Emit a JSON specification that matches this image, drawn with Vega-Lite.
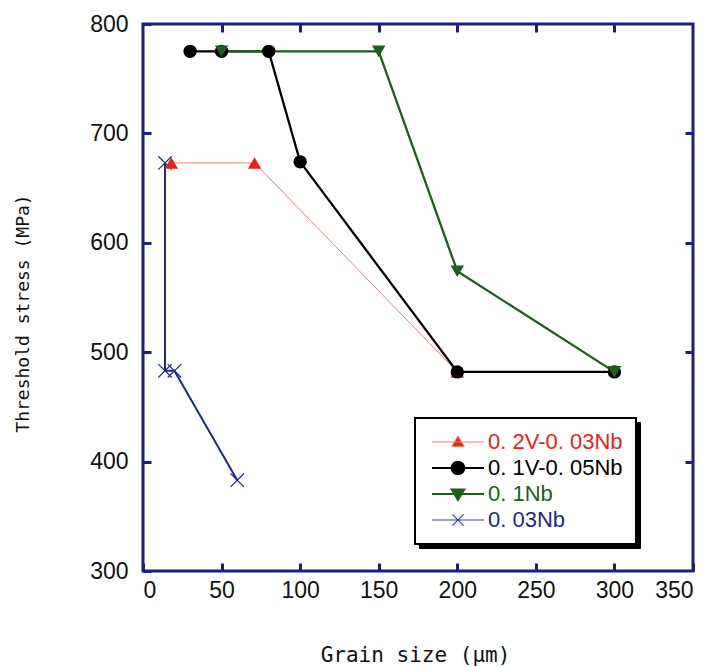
{
  "$schema": "https://vega.github.io/schema/vega-lite/v6.json",
  "width": 550,
  "height": 547,
  "autosize": "none",
  "padding": {"left": 143, "top": 24, "right": 20, "bottom": 96},
  "background": "white",
  "config": {
    "view": {"stroke": "#1c1f80", "strokeWidth": 3},
    "axis": {"grid": false, "domain": false, "tickColor": "#1c1f80", "tickWidth": 3, "tickSize": -8,
      "labelFont": "Liberation Sans", "labelFontSize": 23, "labelColor": "#111",
      "titleFontWeight": "normal", "titleColor": "#111"}
  },
  "data": {"values": [
    {"series": "0. 03Nb", "x": 14, "y": 673, "o": 1},
    {"series": "0. 03Nb", "x": 14, "y": 483, "o": 2},
    {"series": "0. 03Nb", "x": 20, "y": 483, "o": 3},
    {"series": "0. 03Nb", "x": 60, "y": 383, "o": 4},
    {"series": "0. 2V-0. 03Nb", "x": 18, "y": 673, "o": 1},
    {"series": "0. 2V-0. 03Nb", "x": 71, "y": 673, "o": 2},
    {"series": "0. 2V-0. 03Nb", "x": 200, "y": 482, "o": 3},
    {"series": "0. 1V-0. 05Nb", "x": 30, "y": 775, "o": 1},
    {"series": "0. 1V-0. 05Nb", "x": 50, "y": 775, "o": 2},
    {"series": "0. 1V-0. 05Nb", "x": 80, "y": 775, "o": 3},
    {"series": "0. 1V-0. 05Nb", "x": 100, "y": 674, "o": 4},
    {"series": "0. 1V-0. 05Nb", "x": 200, "y": 482, "o": 5},
    {"series": "0. 1V-0. 05Nb", "x": 300, "y": 482, "o": 6},
    {"series": "0. 1Nb", "x": 50, "y": 775, "o": 1},
    {"series": "0. 1Nb", "x": 150, "y": 775, "o": 2},
    {"series": "0. 1Nb", "x": 200, "y": 574, "o": 3},
    {"series": "0. 1Nb", "x": 300, "y": 482, "o": 4}
  ]},
  "resolve": {"axis": {"x": "independent", "y": "independent"}},
  "layer": [
    {
      "mark": {"type": "point", "opacity": 0},
      "encoding": {
        "x": {"field": "x", "type": "quantitative", "scale": {"domain": [0, 350], "nice": false, "zero": false},
          "axis": {"orient": "top", "labels": false, "title": null, "values": [50, 100, 150, 200, 250, 300]}},
        "y": {"field": "y", "type": "quantitative", "scale": {"domain": [300, 800], "nice": false, "zero": false},
          "axis": {"orient": "right", "labels": false, "title": null, "values": [400, 500, 600, 700]}}
      }
    },
    {
      "mark": {"type": "line"},
      "encoding": {
        "x": {"field": "x", "type": "quantitative",
          "axis": {"orient": "bottom", "values": [0, 50, 100, 150, 200, 250, 300, 350], "labelPadding": 16,
            "title": "Grain size (μm)", "titleFont": "DejaVu Sans Mono", "titleFontSize": 21,
            "titleX": 272, "titleY": 84, "titleBaseline": "middle"}},
        "y": {"field": "y", "type": "quantitative",
          "axis": {"orient": "left", "values": [300, 400, 500, 600, 700, 800], "labelPadding": 23,
            "title": "Threshold stress (MPa)", "titleFont": "DejaVu Sans Mono", "titleFontSize": 18,
            "titleX": -120, "titleY": 289, "titleAngle": -90, "titleBaseline": "middle"}},
        "order": {"field": "o", "type": "quantitative"},
        "stroke": {"field": "series", "type": "nominal",
          "scale": {"domain": ["0. 1Nb", "0. 03Nb", "0. 2V-0. 03Nb", "0. 1V-0. 05Nb"],
            "range": ["#1d5e1d", "#1c2a80", "#f0826a", "#000000"]},
          "legend": {
            "orient": "none", "legendX": 276, "legendY": 398, "title": null, "zindex": 0,
            "padding": 13, "strokeColor": "#000", "fillColor": "#000",
            "symbolSize": 196, "labelOffset": 173, "rowPadding": 4, "symbolOffset": 0,
            "labelFont": "Liberation Sans", "labelFontSize": 22, "labelLimit": 400,
            "labelExpr": "'\u00a0\u00a0\u00a0\u00a0\u00a0\u00a0\u00a0\u00a0\u00a0\u00a0\u00a0\u00a0\u00a0\u00a0\u00a0\u00a0\u00a0\u00a0\u00a0\u00a0\u00a0\u00a0\u00a0\u00a0'",
            "symbolOpacity": 0
          }},
        "strokeWidth": {"condition": [
          {"test": "datum.series === '0. 2V-0. 03Nb'", "value": 1},
          {"test": "datum.series === '0. 03Nb'", "value": 2}], "value": 2.3}
      }
    },
    {
      "mark": {"type": "point", "filled": true, "opacity": 1, "size": 180, "stroke": "#1c2a80"},
      "encoding": {
        "x": {"field": "x", "type": "quantitative", "axis": null},
        "y": {"field": "y", "type": "quantitative", "axis": null},
        "fill": {"field": "series", "type": "nominal",
          "scale": {"domain": ["0. 2V-0. 03Nb", "0. 1V-0. 05Nb", "0. 1Nb", "0. 03Nb"],
            "range": ["#e8221b", "#000000", "#1d5e1d", "#1c2a80"]},
          "legend": {
            "orient": "none", "legendX": 272, "legendY": 394, "title": null, "zindex": 1,
            "padding": 13, "strokeColor": "#000", "fillColor": "#fff",
            "symbolSize": 196, "labelOffset": 38, "rowPadding": 4, "symbolOffset": 0,
            "labelFont": "Liberation Sans", "labelFontSize": 22, "labelLimit": 400,
            "encoding": {
              "legend": {"strokeWidth": {"value": 2}},
              "symbols": {
                "shape": {"value": {"expr": "datum.value === '0. 2V-0. 03Nb' ? 'M-1,0H6.43M2.71,-0.85L3.61,0.65L1.81,0.65Z' : datum.value === '0. 1V-0. 05Nb' ? 'M-1,0H6.43M1.81,0A0.9,0.9 0 1,0 3.61,0A0.9,0.9 0 1,0 1.81,0Z' : datum.value === '0. 1Nb' ? 'M-1,0H6.43M2.71,0.85L3.61,-0.65L1.81,-0.65Z' : 'M-1,0H6.43M1.91,-0.8L3.51,0.8M1.91,0.8L3.51,-0.8'"}},
                "fill": {"value": {"expr": "datum.value === '0. 2V-0. 03Nb' ? '#e8221b' : datum.value === '0. 1V-0. 05Nb' ? '#000000' : datum.value === '0. 1Nb' ? '#1d5e1d' : 'transparent'"}},
                "stroke": {"value": {"expr": "datum.value === '0. 2V-0. 03Nb' ? '#f0826a' : datum.value === '0. 1V-0. 05Nb' ? '#000000' : datum.value === '0. 1Nb' ? '#1d5e1d' : '#3a43a0'"}},
                "strokeWidth": {"value": {"expr": "datum.value === '0. 2V-0. 03Nb' ? 1 : datum.value === '0. 03Nb' ? 1.2 : 2"}},
                "opacity": {"value": 1}
              },
              "labels": {
                "fill": {"value": {"expr": "datum.value === '0. 2V-0. 03Nb' ? '#e8221b' : datum.value === '0. 1V-0. 05Nb' ? '#000000' : datum.value === '0. 1Nb' ? '#1d5e1d' : '#1c2a80'"}}
              }
            }
          }},
        "shape": {"field": "series", "type": "nominal", "legend": null,
          "scale": {"domain": ["0. 03Nb", "0. 2V-0. 03Nb", "0. 1V-0. 05Nb", "0. 1Nb"],
            "range": ["M-1,-1L1,1M-1,1L1,-1", "triangle-up", "circle", "triangle-down"]}},
        "strokeWidth": {"condition": {"test": "datum.series === '0. 03Nb'", "value": 1.2}, "value": 0}
      }
    }
  ]
}
